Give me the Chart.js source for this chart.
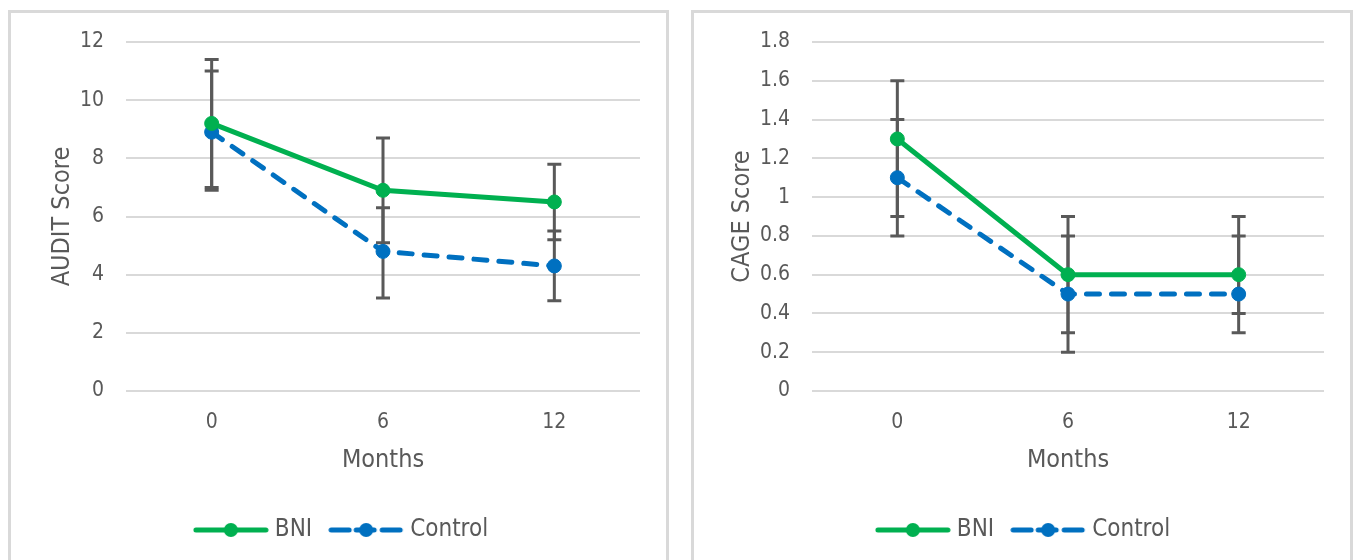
<!DOCTYPE html>
<html>
<head>
<meta charset="utf-8">
<script src="https://cdn.jsdelivr.net/npm/chart.js@4/dist/chart.umd.min.js"></script>
<style>
  body { margin: 0; background: #fff; width: 1353px; height: 560px; overflow: hidden; position: relative; }
  .panel { position: absolute; top: 10px; height: 570px; box-sizing: border-box; border: 3px solid #d9d9d9; background: #fff; }
  #p1 { left: 8px; width: 661px; }
  #p2 { left: 691px; width: 662px; }
  .panel canvas { position: absolute; left: 0; top: 0; }
</style>
</head>
<body>
<div class="panel" id="p1"><canvas id="audit" width="655" height="547"></canvas></div>
<div class="panel" id="p2"><canvas id="cage" width="656" height="547"></canvas></div>
<script>
// data
const months = ['0', '6', '12'];
const seriesNames = ['BNI', 'Control'];

const auditBni = [9.2, 6.9, 6.5];
const auditBniLo = [7.0, 5.1, 5.2];
const auditBniHi = [11.4, 8.7, 7.8];
const auditCtl = [8.9, 4.8, 4.3];
const auditCtlLo = [6.9, 3.2, 3.1];
const auditCtlHi = [11.0, 6.3, 5.5];

const cageBni = [1.3, 0.6, 0.6];
const cageBniLo = [0.9, 0.3, 0.3];
const cageBniHi = [1.6, 0.9, 0.9];
const cageCtl = [1.1, 0.5, 0.5];
const cageCtlLo = [0.8, 0.2, 0.4];
const cageCtlHi = [1.4, 0.8, 0.8];

const green = '#00b050';
const blue = '#0070c0';
const grey = '#595959';
const fontFam = '"Liberation Sans Narrow", "Arial Narrow", "DejaVu Sans Condensed", sans-serif';

// little line+dot pictures for the legend
function legendIcon(color, dashed) {
    let c = document.createElement('canvas');
    c.width = 76; c.height = 18;
    let g = c.getContext('2d');
    g.strokeStyle = color;
    g.fillStyle = color;
    g.lineWidth = 5;
    g.lineCap = 'round';
    if (dashed) {
        [[3, 21], [28, 46], [54, 72]].forEach(s => {
            g.beginPath(); g.moveTo(s[0], 9); g.lineTo(s[1], 9); g.stroke();
        });
    } else {
        g.beginPath(); g.moveTo(3, 9); g.lineTo(73, 9); g.stroke();
    }
    g.beginPath(); g.arc(38, 9, 7, 0, Math.PI * 2); g.fill();
    return c;
}

const errorBars = {
    id: 'errorBars',
    beforeDatasetsDraw(chart) {
        const ctx = chart.ctx;
        const xs = chart.scales.x, ys = chart.scales.y;
        ctx.save();
        ctx.strokeStyle = grey;
        ctx.lineWidth = 3;
        chart.data.datasets.forEach(ds => {
            ds.lo.forEach((lo, i) => {
                const x = xs.getPixelForValue(i);
                const y1 = ys.getPixelForValue(lo);
                const y2 = ys.getPixelForValue(ds.hi[i]);
                ctx.beginPath();
                ctx.moveTo(x, y1); ctx.lineTo(x, y2);
                ctx.moveTo(x - 7, y1); ctx.lineTo(x + 7, y1);
                ctx.moveTo(x - 7, y2); ctx.lineTo(x + 7, y2);
                ctx.stroke();
            });
        });
        ctx.restore();
    }
};

function makeChart(id, cfg) {
    new Chart(document.getElementById(id), {
        type: 'line',
        data: {
            labels: months,
            datasets: [{
                label: seriesNames[0],
                data: cfg.bni, lo: cfg.bniLo, hi: cfg.bniHi,
                borderColor: green, backgroundColor: green,
                borderWidth: 5, pointRadius: 7, pointHoverRadius: 7,
                pointBackgroundColor: green, pointBorderColor: green, pointBorderWidth: 1,
                tension: 0, fill: false
            }, {
                label: seriesNames[1],
                data: cfg.ctl, lo: cfg.ctlLo, hi: cfg.ctlHi,
                borderColor: blue, backgroundColor: blue,
                borderWidth: 5, borderDash: [13, 12], borderCapStyle: 'round',
                pointRadius: 7, pointHoverRadius: 7,
                pointBackgroundColor: blue, pointBorderColor: blue, pointBorderWidth: 1,
                tension: 0, fill: false
            }]
        },
        options: {
            responsive: false,
            animation: false,
            layout: { padding: { top: 29, right: 26, bottom: 8, left: cfg.padL } },
            plugins: {
                tooltip: { enabled: false },
                legend: {
                    position: 'bottom',
                    labels: {
                        usePointStyle: true,
                        pointStyleWidth: 64,
                        padding: 22,
                        color: grey,
                        font: { family: fontFam, size: 24 },
                        generateLabels: (chart) => chart.data.datasets.map((ds, i) => ({
                            text: ds.label,
                            pointStyle: legendIcon(ds.borderColor, i === 1),
                            fillStyle: ds.borderColor,
                            strokeStyle: ds.borderColor,
                            lineWidth: 0,
                            fontColor: grey,
                            datasetIndex: i
                        }))
                    }
                }
            },
            scales: {
                x: {
                    offset: true,
                    grid: { display: false },
                    border: { display: false },
                    ticks: { color: grey, padding: 11, font: { family: fontFam, size: 21 } },
                    title: { display: true, text: 'Months', color: grey, padding: { top: 0, bottom: 21 }, font: { family: fontFam, size: 25 } },
                    afterFit: (s) => { s.height = 105; }
                },
                y: {
                    min: 0, max: cfg.max,
                    grid: { color: '#d9d9d9', lineWidth: 2, drawTicks: false },
                    border: { display: false },
                    ticks: {
                        stepSize: cfg.step, padding: 22, color: grey,
                        font: { family: fontFam, size: 21 },
                        callback: (v) => String(+v.toFixed(1))
                    },
                    title: { display: true, text: cfg.title, color: grey, padding: { top: 0, bottom: 0 }, font: { family: fontFam, size: 25 } },
                    afterFit: (s) => {
                        s.width = cfg.axisW;
                        s.paddingTop = 12;
                        s.paddingBottom = 12;
                    }
                }
            }
        },
        plugins: [errorBars]
    });
}

makeChart('audit', {
    bni: auditBni, bniLo: auditBniLo, bniHi: auditBniHi,
    ctl: auditCtl, ctlLo: auditCtlLo, ctlHi: auditCtlHi,
    max: 12, step: 2, title: 'AUDIT Score', padL: 36, axisW: 79
});
makeChart('cage', {
    bni: cageBni, bniLo: cageBniLo, bniHi: cageBniHi,
    ctl: cageCtl, ctlLo: cageCtlLo, ctlHi: cageCtlHi,
    max: 1.8, step: 0.2, title: 'CAGE Score', padL: 33, axisW: 85
});
</script>
</body>
</html>
